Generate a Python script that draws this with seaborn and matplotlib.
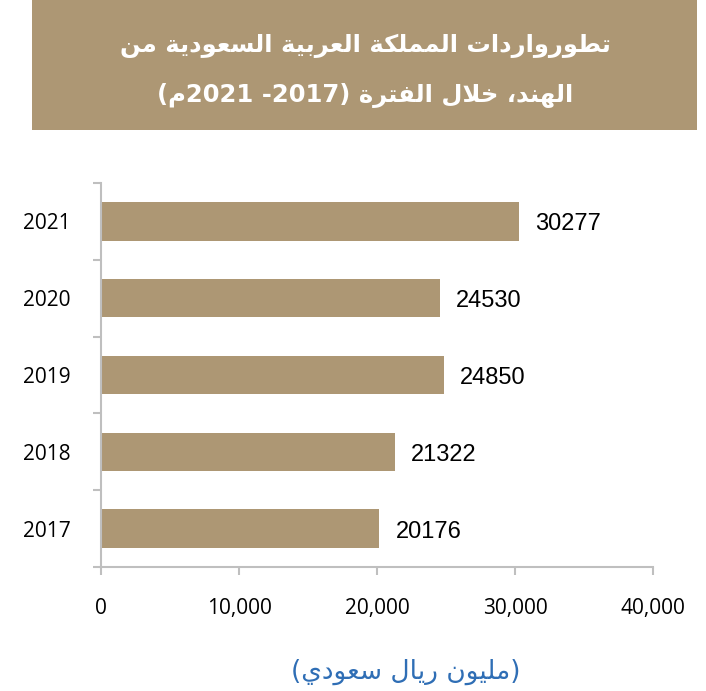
import re
import matplotlib
matplotlib.use('Agg')
import matplotlib.pyplot as plt
from matplotlib.patches import Rectangle
import seaborn as sns

years = ['2021', '2020', '2019', '2018', '2017']
imports = [30277, 24530, 24850, 21322, 20176]
xticks = [0, 10000, 20000, 30000, 40000]
title_lines = ['تطورواردات المملكة العربية السعودية من',
               'الهند، خلال الفترة (2017- 2021م)']
xlabel = '(مليون ريال سعودي)'

tan = '#AD9774'
grey = '#BFBFBF'

# matplotlib has no arabic shaping, so pick presentation forms by hand
forms = {'ا': (0xFE8D, 2), 'ب': (0xFE8F, 4), 'ة': (0xFE93, 2), 'ت': (0xFE95, 4),
         'خ': (0xFEA5, 4), 'د': (0xFEA9, 2), 'ر': (0xFEAD, 2), 'س': (0xFEB1, 4),
         'ط': (0xFEC1, 4), 'ع': (0xFEC9, 4), 'ف': (0xFED1, 4), 'ك': (0xFED9, 4),
         'ل': (0xFEDD, 4), 'م': (0xFEE1, 4), 'ن': (0xFEE5, 4), 'ه': (0xFEE9, 4),
         'و': (0xFEED, 2), 'ي': (0xFEF1, 4)}


def joins_left(c):
    return c in forms and forms[c][1] == 4


def arabic(s):
    toks = []
    i = 0
    while i < len(s):
        if s[i] == 'ل' and i + 1 < len(s) and s[i + 1] == 'ا':
            toks.append('لا')
            i += 2
        else:
            toks.append(s[i])
            i += 1
    out = []
    for k, t in enumerate(toks):
        prev = toks[k - 1] if k > 0 else ''
        nxt = toks[k + 1] if k + 1 < len(toks) else ''
        if t == 'لا':
            out.append(chr(0xFEFC if joins_left(prev) else 0xFEFB))
        elif t in forms:
            base, n = forms[t]
            p = joins_left(prev)
            q = n == 4 and (nxt in forms or nxt == 'لا')
            if p and q:
                out.append(chr(base + 3))
            elif p:
                out.append(chr(base + 1))
            elif q:
                out.append(chr(base + 2))
            else:
                out.append(chr(base))
        else:
            out.append(t)
    r = ''.join(out)[::-1]
    r = re.sub(r'[0-9]+', lambda m: m.group(0)[::-1], r)
    return r.translate(str.maketrans('()', ')('))


fig = plt.figure(figsize=(7.06, 6.91), dpi=100)
fig.patches.append(Rectangle((32 / 706, 1 - 130 / 691), 665 / 706, 130 / 691,
                             transform=fig.transFigure, facecolor=tan, edgecolor='none'))
fig.text(365 / 706, 1 - 46 / 691, arabic(title_lines[0]), color='white', fontsize=17.5,
         fontweight='bold', family='DejaVu Sans', ha='center', va='center')
fig.text(365 / 706, 1 - 96 / 691, arabic(title_lines[1]), color='white', fontsize=17.5,
         fontweight='bold', family='DejaVu Sans', ha='center', va='center')

ax = fig.add_axes([101 / 706, 1 - 567 / 691, 552 / 706, 384 / 691])
sns.barplot(x=imports, y=years, orient='h', color=tan, width=0.5, linewidth=0,
            saturation=1, ax=ax)

for i, v in enumerate(imports):
    ax.annotate(str(v), (v, i), xytext=(16, -3), textcoords='offset pixels',
                ha='left', va='center', fontsize=17, family='Liberation Sans',
                color='black')

ax.set_xlim(0, 40000)
ax.set_ylim(4.5, -0.5)
ax.set_xticks(xticks)
ax.set_xticklabels([f'{v:,}' for v in xticks], fontsize=15, family='Open Sans')
ax.set_yticks(range(len(years)))
ax.set_yticklabels(years, fontsize=15, family='Open Sans', va='center_baseline')
ax.set_yticks([k - 0.5 for k in range(len(years) + 1)], minor=True)
ax.tick_params(axis='y', which='major', length=0, pad=22)
ax.tick_params(axis='y', which='minor', length=6, width=1.5, color=grey)
ax.tick_params(axis='x', length=6, width=1.5, color=grey, pad=16)
ax.set_xlabel('')
ax.set_ylabel('')
for side in ['top', 'right']:
    ax.spines[side].set_visible(False)
for side in ['left', 'bottom']:
    ax.spines[side].set_color(grey)
    ax.spines[side].set_linewidth(1.5)

fig.text(406 / 706, 1 - 672 / 691, arabic(xlabel), color='#2F6EB5', fontsize=19,
         family='DejaVu Sans', ha='center', va='center')

fig.savefig('out.png', dpi=100)
